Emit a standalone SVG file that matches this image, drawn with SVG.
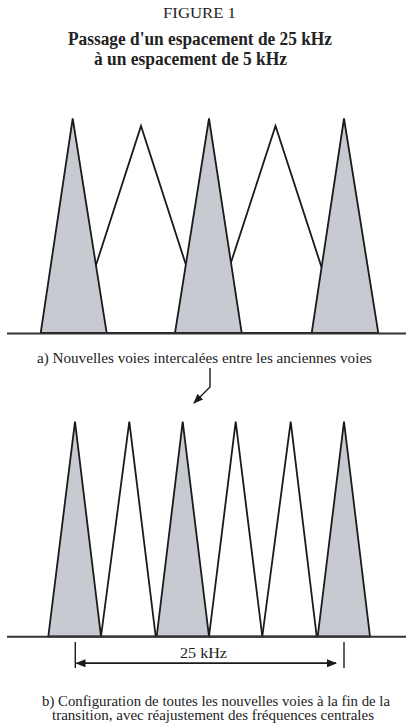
<svg xmlns="http://www.w3.org/2000/svg" width="406" height="723" viewBox="0 0 406 723">
<style>
.t{font-family:"Liberation Serif","Times New Roman",serif;fill:#222}
.g{fill:#c7cbd1;stroke:#1a1a1a;stroke-width:1.8;stroke-linejoin:miter}
.w{fill:#fff;stroke:#1a1a1a;stroke-width:1.8}
.base{stroke:#333;stroke-width:2;fill:none}
.ln{stroke:#1a1a1a;stroke-width:1.4;fill:none}
</style>
<defs>
<marker id="ah" markerWidth="10" markerHeight="8" refX="9" refY="4" orient="auto" markerUnits="userSpaceOnUse">
<path d="M0,0 L10,4 L0,8 z" fill="#1a1a1a"/>
</marker>
</defs>
<rect width="406" height="723" fill="#fff"/>
<g id="title">
<text class="t" x="163" y="17.5" font-size="15.5" textLength="73" lengthAdjust="spacingAndGlyphs">FIGURE 1</text>
<text class="t" x="68" y="45" font-size="18" font-weight="bold" textLength="264" lengthAdjust="spacingAndGlyphs">Passage d'un espacement de 25 kHz</text>
<text class="t" x="94" y="64.5" font-size="18" font-weight="bold" textLength="193" lengthAdjust="spacingAndGlyphs">à un espacement de 5 kHz</text>
</g>
<g id="graph-a">
<polygon class="w" points="74,333 141,126 208,333"/>
<polygon class="w" points="208,333 275.5,126 343,333"/>
<polygon class="g" points="40.7,333 72.7,118.5 106.7,333"/>
<polygon class="g" points="175,333 209,118.5 241.7,333"/>
<polygon class="g" points="311.7,333 344,118.5 378.3,333"/>
<line class="base" x1="7" y1="333.5" x2="406" y2="333.5"/>
</g>
<g id="label-a">
<text class="t" x="37" y="362.5" font-size="15" textLength="335" lengthAdjust="spacingAndGlyphs">a) Nouvelles voies intercalées entre les anciennes voies</text>
</g>
<g id="connectors">
<polyline class="ln" points="210,368 210,387 194,403" marker-end="url(#ah)"/>
</g>
<g id="graph-b">
<polygon class="g" points="48.3,636.5 75,421.7 101,636.5"/>
<polygon class="w" points="101,636.5 129.3,421.7 155.7,636.5"/>
<polygon class="g" points="156.7,636.5 182.7,421.7 209,636.5"/>
<polygon class="w" points="209,636.5 235.7,421.7 262.3,636.5"/>
<polygon class="w" points="262.3,636.5 290.7,421.7 316.7,636.5"/>
<polygon class="g" points="317.7,636.5 344,421.7 370,636.5"/>
<line class="base" x1="7" y1="636.7" x2="406" y2="636.7"/>
</g>
<g id="dimension">
<line class="ln" x1="75.3" y1="642" x2="75.3" y2="668"/>
<line class="ln" x1="344" y1="642" x2="344" y2="668"/>
<line class="ln" x1="84" y1="663.3" x2="336" y2="663.3" marker-end="url(#ah)"/>
<line class="ln" x1="336" y1="663.3" x2="76.5" y2="663.3" marker-end="url(#ah)"/>
<text class="t" x="180" y="657.5" font-size="15" textLength="47" lengthAdjust="spacingAndGlyphs">25 kHz</text>
</g>
<g id="label-b">
<text class="t" x="42" y="706" font-size="14" textLength="348" lengthAdjust="spacingAndGlyphs">b)  Configuration de toutes les nouvelles voies à la fin de la</text>
<text class="t" x="52" y="720" font-size="14" textLength="322" lengthAdjust="spacingAndGlyphs">transition, avec réajustement des fréquences centrales</text>
</g>
</svg>
